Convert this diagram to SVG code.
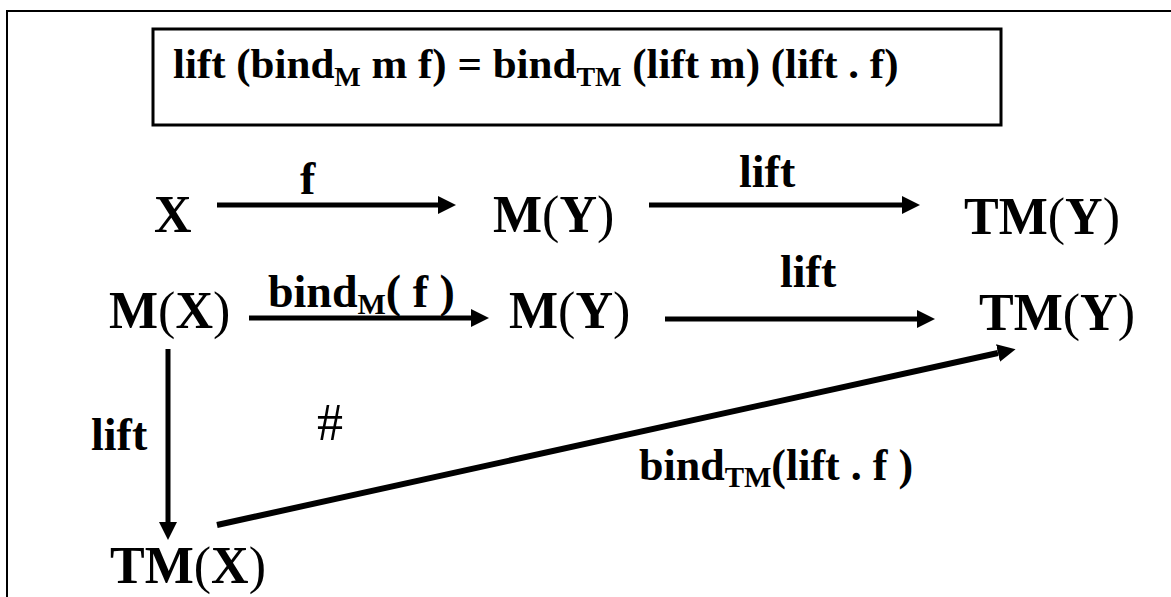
<svg xmlns="http://www.w3.org/2000/svg" width="1171" height="597" viewBox="0 0 1171 597">
<style>
.t{font-family:"Liberation Serif","Times New Roman",serif;font-weight:bold;fill:#000}
.n{font-size:52px}
.l{font-size:46px}
.r{font-weight:normal}
.c{stroke:#000;fill:none}
</style>
<defs>
<marker id="ah" viewBox="0 0 18 18" refX="0" refY="9" markerWidth="18" markerHeight="18" markerUnits="userSpaceOnUse" orient="auto">
<path d="M0,0 L18,9 L0,18 z" fill="#000"/>
</marker>
</defs>
<rect x="0" y="0" width="1171" height="597" fill="#fff"/>
<rect x="7" y="11" width="1180" height="600" fill="none" stroke="#000" stroke-width="2"/>
<g id="law">
<rect x="153" y="29" width="848" height="96" fill="#fff" stroke="#000" stroke-width="3"/>
<text class="t" x="173" y="78" font-size="43">lift (bind<tspan font-size="28" dy="8">M</tspan><tspan dy="-8"> m f) = bind</tspan><tspan font-size="28" dy="8">TM</tspan><tspan dy="-8"> (lift m) (lift . f)</tspan></text>
</g>
<g id="connectors">
<line class="c" x1="217" y1="205" x2="438" y2="205" stroke-width="5" marker-end="url(#ah)"/>
<line class="c" x1="649" y1="205" x2="902" y2="205" stroke-width="5" marker-end="url(#ah)"/>
<line class="c" x1="249" y1="318" x2="471" y2="318" stroke-width="5" marker-end="url(#ah)"/>
<line class="c" x1="665" y1="319" x2="917" y2="319" stroke-width="5" marker-end="url(#ah)"/>
<line class="c" x1="168" y1="349" x2="168" y2="522" stroke-width="5" marker-end="url(#ah)"/>
<line class="c" x1="217" y1="525" x2="998" y2="353" stroke-width="6" marker-end="url(#ah)"/>
<text class="t l" x="300" y="194">f</text>
<text class="t l" x="739" y="187">lift</text>
<text class="t l" x="268" y="307">bind<tspan font-size="30" dy="7">M</tspan><tspan dy="-7">( f )</tspan></text>
<text class="t l" x="780" y="287">lift</text>
<text class="t l" x="91" y="450">lift</text>
<text class="t r" x="317" y="440" font-size="52">#</text>
<text class="t" x="639" y="480" font-size="44">bind<tspan font-size="29" dy="7">TM</tspan><tspan dy="-7">(lift . f )</tspan></text>
</g>
<g id="node-X"><text class="t n" x="154" y="232">X</text></g>
<g id="node-MY1"><text class="t n" x="493" y="232">M<tspan class="r">(</tspan>Y<tspan class="r">)</tspan></text></g>
<g id="node-TMY1"><text class="t n" x="964" y="234">TM<tspan class="r">(</tspan>Y<tspan class="r">)</tspan></text></g>
<g id="node-MX"><text class="t n" x="109" y="328">M<tspan class="r">(</tspan>X<tspan class="r">)</tspan></text></g>
<g id="node-MY2"><text class="t n" x="509" y="328">M<tspan class="r">(</tspan>Y<tspan class="r">)</tspan></text></g>
<g id="node-TMY2"><text class="t n" x="979" y="330">TM<tspan class="r">(</tspan>Y<tspan class="r">)</tspan></text></g>
<g id="node-TMX"><text class="t n" x="110" y="583">TM<tspan class="r">(</tspan>X<tspan class="r">)</tspan></text></g>
</svg>
